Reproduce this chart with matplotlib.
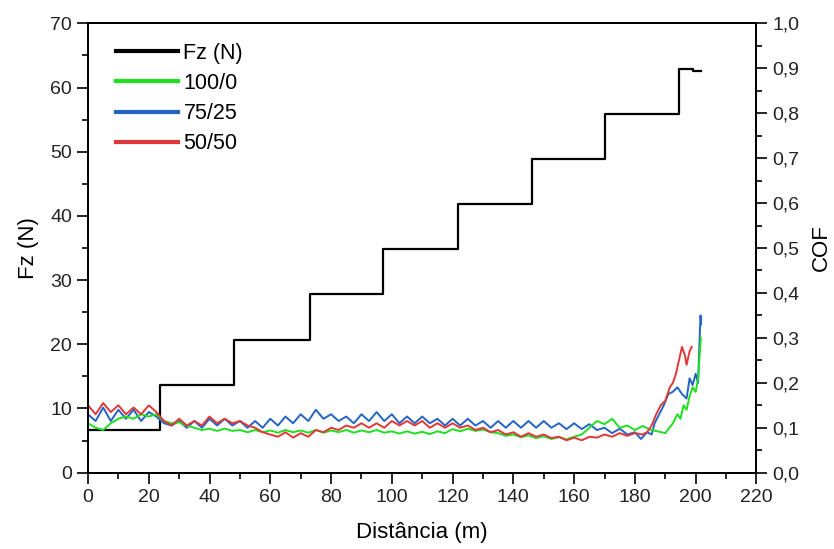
import matplotlib.pyplot as plt
from matplotlib.ticker import MultipleLocator, FuncFormatter
from matplotlib.lines import Line2D

plt.rcParams['font.family'] = ['Liberation Sans', 'DejaVu Sans']

# Normal load steps (N) vs sliding distance (m)
fz_dist = [0, 23.8, 48.2, 73.0, 97.0, 121.8, 146.0, 170.0, 194.4, 199.0, 201.6]
fz_load = [6.7, 13.7, 20.7, 27.8, 34.8, 41.8, 48.8, 55.9, 62.9, 62.5, 62.5]

# COF, 75/25
dist_7525 = [0, 2.5, 5, 7.5, 10, 12.5, 15, 17.5, 20, 22.5, 25, 27.5, 30, 32.5, 35, 37.5,
             40, 42.5, 45, 47.5, 50, 52.5, 55, 57.5, 60, 62.5, 65, 67.5, 70, 72.5, 75, 77.5,
             80, 82.5, 85, 87.5, 90, 92.5, 95, 97.5, 100, 102.5, 105, 107.5, 110, 112.5,
             115, 117.5, 120, 122.5, 125, 127.5, 130, 132.5, 135, 137.5, 140, 142.5, 145,
             147.5, 150, 152.5, 155, 157.5, 160, 162.5, 165, 167.5, 170, 172.5, 175, 177.5,
             180, 182, 184, 185.5, 186.5, 188, 189.5, 191, 192.5, 194, 195.5, 197, 198, 199,
             200, 200.8, 201.2, 201.6, 201.8]
cof_7525 = [0.13, 0.115, 0.145, 0.115, 0.14, 0.12, 0.14, 0.115, 0.135, 0.125, 0.11, 0.105,
            0.115, 0.10, 0.115, 0.10, 0.12, 0.105, 0.12, 0.105, 0.115, 0.10, 0.115, 0.10,
            0.12, 0.105, 0.125, 0.11, 0.13, 0.115, 0.14, 0.12, 0.13, 0.115, 0.125, 0.11,
            0.13, 0.115, 0.135, 0.115, 0.13, 0.11, 0.125, 0.11, 0.125, 0.11, 0.12, 0.105,
            0.12, 0.105, 0.12, 0.105, 0.115, 0.10, 0.115, 0.10, 0.115, 0.10, 0.115, 0.10,
            0.115, 0.10, 0.11, 0.097, 0.11, 0.097, 0.108, 0.095, 0.10, 0.088, 0.098, 0.085,
            0.09, 0.075, 0.09, 0.085, 0.11, 0.13, 0.15, 0.175, 0.18, 0.19, 0.175, 0.165,
            0.21, 0.195, 0.22, 0.20, 0.28, 0.35, 0.33]

# COF, 50/50
dist_5050 = [0, 2.5, 5, 7.5, 10, 12.5, 15, 17.5, 20, 22.5, 25, 27.5, 30, 32.5, 35, 37.5,
             40, 42.5, 45, 47.5, 50, 52.5, 55, 57.5, 60, 62.5, 65, 67.5, 70, 72.5, 75, 77.5,
             80, 82.5, 85, 87.5, 90, 92.5, 95, 97.5, 100, 102.5, 105, 107.5, 110, 112.5,
             115, 117.5, 120, 122.5, 125, 127.5, 130, 132.5, 135, 137.5, 140, 142.5, 145,
             147.5, 150, 152.5, 155, 157.5, 160, 162.5, 165, 167.5, 170, 172.5, 175, 177.5,
             180, 182.5, 184, 185.5, 187, 188.5, 190, 191.5, 192.5, 193.5, 194.5, 195.5,
             196.5, 197, 198, 198.7]
cof_5050 = [0.15, 0.13, 0.155, 0.135, 0.15, 0.13, 0.145, 0.13, 0.15, 0.135, 0.115, 0.105,
            0.12, 0.105, 0.115, 0.105, 0.125, 0.11, 0.12, 0.11, 0.115, 0.105, 0.10, 0.09,
            0.085, 0.08, 0.09, 0.078, 0.088, 0.08, 0.095, 0.09, 0.10, 0.095, 0.105, 0.10,
            0.11, 0.10, 0.11, 0.10, 0.115, 0.105, 0.115, 0.105, 0.115, 0.10, 0.11, 0.10,
            0.11, 0.10, 0.105, 0.095, 0.10, 0.09, 0.095, 0.085, 0.09, 0.08, 0.088, 0.08,
            0.085, 0.077, 0.08, 0.072, 0.078, 0.072, 0.08, 0.078, 0.085, 0.08, 0.088, 0.082,
            0.088, 0.085, 0.09, 0.105, 0.13, 0.15, 0.16, 0.19, 0.20, 0.22, 0.25, 0.28,
            0.26, 0.24, 0.27, 0.28]

# COF, 100/0
dist_1000 = [0, 2.5, 5, 7.5, 10, 12.5, 15, 17.5, 20, 22.5, 25, 27.5, 30, 32.5, 35, 37.5,
             40, 42.5, 45, 47.5, 50, 52.5, 55, 57.5, 60, 62.5, 65, 67.5, 70, 72.5, 75, 77.5,
             80, 82.5, 85, 87.5, 90, 92.5, 95, 97.5, 100, 102.5, 105, 107.5, 110, 112.5,
             115, 117.5, 120, 122.5, 125, 127.5, 130, 132.5, 135, 137.5, 140, 142.5, 145,
             147.5, 150, 152.5, 155, 157.5, 160, 162.5, 165, 167.5, 170, 172.5, 175, 177.5,
             180, 182.5, 185, 187.5, 190, 192.5, 194, 195, 196, 197, 198, 199, 200, 200.8,
             201.3, 201.7]
cof_1000 = [0.11, 0.10, 0.095, 0.11, 0.12, 0.125, 0.12, 0.13, 0.125, 0.13, 0.115, 0.11,
            0.112, 0.105, 0.10, 0.095, 0.098, 0.093, 0.098, 0.093, 0.095, 0.09, 0.095, 0.09,
            0.094, 0.089, 0.095, 0.09, 0.094, 0.089, 0.095, 0.089, 0.094, 0.09, 0.095, 0.089,
            0.094, 0.09, 0.095, 0.089, 0.092, 0.087, 0.092, 0.087, 0.091, 0.086, 0.092, 0.088,
            0.097, 0.092, 0.098, 0.093, 0.096, 0.09, 0.088, 0.082, 0.085, 0.079, 0.083, 0.077,
            0.081, 0.075, 0.079, 0.074, 0.08, 0.085, 0.10, 0.115, 0.108, 0.12, 0.10, 0.105,
            0.095, 0.104, 0.096, 0.092, 0.088, 0.11, 0.13, 0.12, 0.15, 0.14, 0.17, 0.19,
            0.18, 0.21, 0.26, 0.30]

fig = plt.figure(figsize=(8.34, 5.49), dpi=100)
ax = fig.add_axes([0.1055, 0.139, 0.8015, 0.8185])
ax2 = ax.twinx()

ax.plot(fz_dist, fz_load, color='black', lw=1.6, drawstyle='steps-post', zorder=3)
ax2.plot(dist_7525, cof_7525, color='#2464c4', lw=1.4)
ax2.plot(dist_1000, cof_1000, color='#1fe01f', lw=1.4)
ax2.plot(dist_5050, cof_5050, color='#e03838', lw=1.4)

ax.set_xlim(0, 220)
ax.set_ylim(0, 70)
ax2.set_ylim(0, 1.0)

ax.xaxis.set_major_locator(MultipleLocator(20))
ax.xaxis.set_minor_locator(MultipleLocator(10))
ax.yaxis.set_major_locator(MultipleLocator(10))
ax.yaxis.set_minor_locator(MultipleLocator(5))
ax2.yaxis.set_major_locator(MultipleLocator(0.1))
ax2.yaxis.set_minor_locator(MultipleLocator(0.05))
ax2.yaxis.set_major_formatter(FuncFormatter(lambda v, p: f'{v:.1f}'.replace('.', ',')))

for a in (ax, ax2):
    a.tick_params(which='major', direction='out', length=8, width=1.2, labelsize=14,
                  labelcolor='#222222')
    a.tick_params(which='minor', direction='out', length=4, width=1.2)
    for s in a.spines.values():
        s.set_linewidth(1.3)

ax.set_xlabel('Distância (m)', fontsize=16, labelpad=12)
ax.set_ylabel('Fz (N)', fontsize=16, labelpad=8)
ax2.set_ylabel('COF', fontsize=16, labelpad=8)

handles = [Line2D([], [], color='black', lw=3),
           Line2D([], [], color='#1fe01f', lw=3),
           Line2D([], [], color='#2464c4', lw=3),
           Line2D([], [], color='#e03838', lw=3)]
labels = ['Fz (N)', '100/0', '75/25', '50/50']
ax2.legend(handles, labels, loc='upper left', frameon=False, fontsize=15.5,
           handlelength=2.9, handletextpad=0.25, labelspacing=0.42,
           bbox_to_anchor=(0.022, 0.985), borderaxespad=0.2)

fig.savefig('out.png', dpi=100)
